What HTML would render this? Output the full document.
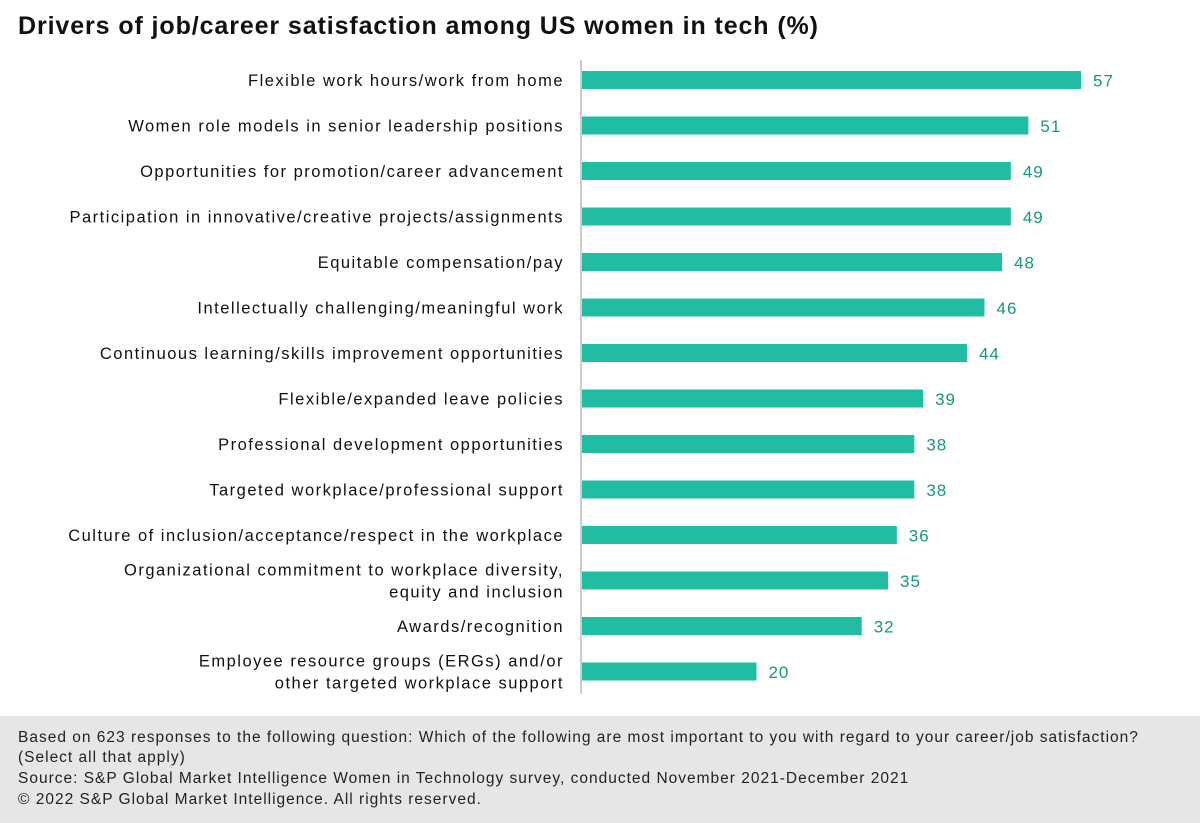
<!DOCTYPE html>
<html><head><meta charset="utf-8">
<style>
body{margin:0;width:1200px;height:823px;background:#fff;font-family:"Liberation Sans",sans-serif;overflow:hidden;position:relative}
#title{position:absolute;left:18px;top:12px;font-size:25px;font-weight:bold;color:#111;letter-spacing:0.9px}
#footer{position:absolute;left:0;top:716px;width:1200px;height:107px;background:#e6e6e6}
#footer div{position:absolute;left:18px;font-size:15.5px;color:#222;letter-spacing:1.0px;white-space:nowrap}
svg{position:absolute;left:0;top:0}
</style></head><body>
<div id="title">Drivers of job/career satisfaction among US women in tech (%)</div>
<svg id="chart" width="1200" height="716"></svg>
<div id="footer">
<div style="top:13px">Based on 623 responses to the following question: Which of the following are most important to you with regard to your career/job satisfaction?</div>
<div style="top:33px">(Select all that apply)</div>
<div style="top:54px">Source: S&amp;P Global Market Intelligence Women in Technology survey, conducted November 2021-December 2021</div>
<div style="top:75px">© 2022 S&amp;P Global Market Intelligence. All rights reserved.</div>
</div>
<script>
const categories=[
["Flexible work hours/work from home"],
["Women role models in senior leadership positions"],
["Opportunities for promotion/career advancement"],
["Participation in innovative/creative projects/assignments"],
["Equitable compensation/pay"],
["Intellectually challenging/meaningful work"],
["Continuous learning/skills improvement opportunities"],
["Flexible/expanded leave policies"],
["Professional development opportunities"],
["Targeted workplace/professional support"],
["Culture of inclusion/acceptance/respect in the workplace"],
["Organizational commitment to workplace diversity,","equity and inclusion"],
["Awards/recognition"],
["Employee resource groups (ERGs) and/or","other targeted workplace support"]
];
const values=[57,51,49,49,48,46,44,39,38,38,36,35,32,20];
const svg=document.getElementById('chart');
const NS='http://www.w3.org/2000/svg';
const x0=581, pxPer=500/57;
const x=v=>x0+v*pxPer;
const y=i=>80+i*45.5;
const barH=18;
const axis=document.createElementNS(NS,'line');
axis.setAttribute('x1',x0);axis.setAttribute('x2',x0);axis.setAttribute('y1',60);axis.setAttribute('y2',694);
axis.setAttribute('stroke','#bbb');axis.setAttribute('stroke-width','1.5');


svg.appendChild(axis);
values.forEach((v,i)=>{
  const r=document.createElementNS(NS,'rect');
  r.setAttribute('x',x0+1);r.setAttribute('y',y(i)-barH/2);
  r.setAttribute('width',x(v)-x0-1);r.setAttribute('height',barH);
  r.setAttribute('fill','#20bda3');
  
  
  svg.appendChild(r);
  const t=document.createElementNS(NS,'text');
  t.setAttribute('x',x(v)+12);t.setAttribute('y',y(i)+6.5);
  t.setAttribute('font-size','17');t.setAttribute('fill','#16977f');
  t.setAttribute('letter-spacing','1');
  t.setAttribute('font-family','Liberation Sans, sans-serif');
  t.textContent=v;
  
  
  svg.appendChild(t);
  const lines=categories[i];
  lines.forEach((ln,k)=>{
    const c=document.createElementNS(NS,'text');
    const off=lines.length===1?6:(k===0?-5:17);
    c.setAttribute('x',564);c.setAttribute('y',y(i)+off);
    c.setAttribute('text-anchor','end');c.setAttribute('font-size','16.5');
    c.setAttribute('letter-spacing','1.5');
    c.setAttribute('fill','#111');c.setAttribute('font-family','Liberation Sans, sans-serif');
    c.textContent=ln;
    
    
    svg.appendChild(c);
  });
});
</script>
</body></html>
